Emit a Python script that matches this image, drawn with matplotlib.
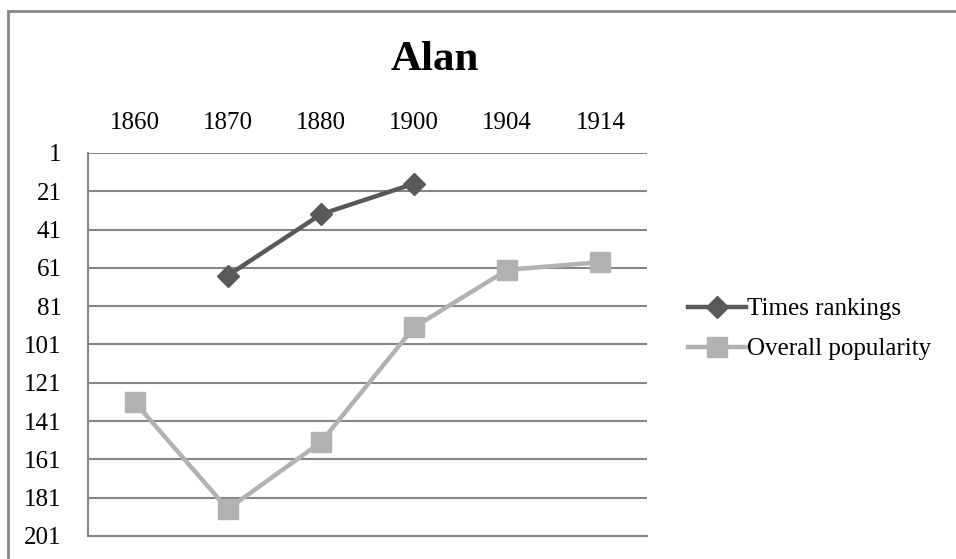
import matplotlib
matplotlib.use("Agg")
import matplotlib.pyplot as plt
from matplotlib.patches import Rectangle
import numpy as np

plt.rcParams['font.family'] = ['Liberation Serif', 'DejaVu Serif']

# rank data per census year (lower rank = more popular)
years = ['1860', '1870', '1880', '1900', '1904', '1914']
times_rankings = [np.nan, 65, 33, 17, np.nan, np.nan]
overall_popularity = [131, 187, 152, 92, 62, 58]
yticks = [1, 21, 41, 61, 81, 101, 121, 141, 161, 181, 201]

grid_col = '#868686'

fig = plt.figure(figsize=(9.56, 5.59), dpi=100)
ax = fig.add_axes([88/956, 23/559, 559/956, 383/559])

x = np.arange(len(years))
ax.plot(x, times_rankings, color='#595959', lw=3.2, marker='D', ms=11,
        label='Times rankings')
ax.plot(x, overall_popularity, color='#b2b2b2', lw=3.2, marker='s', ms=14,
        label='Overall popularity')

ax.set_xlim(-0.5, len(years) - 0.5)
ax.set_ylim(201, 1)
ax.set_yticks(yticks)
ax.set_xticks(x)
ax.set_xticklabels(years)
ax.xaxis.tick_top()
ax.tick_params(axis='x', length=0, pad=14, labelsize=18)
ax.tick_params(axis='y', length=0, pad=19, labelsize=18)
ax.yaxis.grid(True, color=grid_col, lw=1.5)
ax.set_axisbelow(True)
for s in ['right', 'top']:
    ax.spines[s].set_visible(False)
for s in ['left', 'bottom']:
    ax.spines[s].set_color(grid_col)
    ax.spines[s].set_linewidth(1.5)

ax.legend(loc='center left', bbox_to_anchor=(688/956, 1 - 329/559),
          bbox_transform=fig.transFigure, frameon=False, fontsize=18,
          handlelength=2.3, handletextpad=0.05, labelspacing=0.7,
          borderaxespad=0, borderpad=0)

fig.text(435/956, 1 - 60/559, 'Alan', ha='center', va='center',
         fontsize=31, fontweight='bold')

# chart area border
fig.patches.append(Rectangle((7.5/956, -0.1), 1.2, 1.1 - 10.5/559,
                             transform=fig.transFigure, fill=False,
                             ec=grid_col, lw=2))

fig.savefig('out.png', dpi=100, facecolor='white')
